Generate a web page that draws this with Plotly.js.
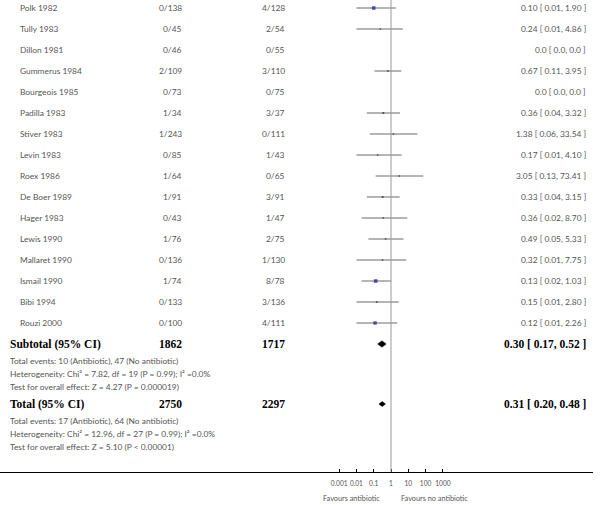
<!DOCTYPE html>
<html>
<head>
<meta charset="utf-8">
<script src="https://cdn.plot.ly/plotly-3.0.1.min.js"></script>
<style>html,body{margin:0;padding:0;background:#fff;}#chart{width:600px;height:505px;}</style>
</head>
<body>
<div id="chart"></div>
<script>
// ---- data ----
const studies = ["Polk 1982","Tully 1983","Dillon 1981","Gummerus 1984","Bourgeois 1985","Padilla 1983","Stiver 1983","Levin 1983","Roex 1986","De Boer 1989","Hager 1983","Lewis 1990","Mallaret 1990","Ismail 1990","Bibi 1994","Rouzi 2000"];
const abEvents = [0,0,0,2,0,1,1,0,1,1,0,1,0,1,0,0];
const abTotal  = [138,45,46,109,73,34,243,85,64,91,43,76,136,74,133,100];
const noEvents = [4,2,0,3,0,3,0,1,0,3,1,2,1,8,3,4];
const noTotal  = [128,54,55,110,75,37,111,43,65,91,47,75,130,78,136,111];
const rr = [0.10,0.24,0,0.67,0,0.36,1.38,0.17,3.05,0.33,0.36,0.49,0.32,0.13,0.15,0.12];
const ciLo = [0.01,0.01,0,0.11,0,0.04,0.06,0.01,0.13,0.04,0.02,0.05,0.01,0.02,0.01,0.01];
const ciHi = [1.90,4.86,0,3.95,0,3.32,33.54,4.10,73.41,3.15,8.70,5.33,7.75,1.03,2.80,2.26];
const weights = [8.5,3.5,0,4.0,0,4.5,1.5,2.5,1.5,4.5,2.0,3.0,2.0,8.5,4.0,8.0];

const summaryLabels = ["Subtotal (95% CI)","Total (95% CI)"];
const summaryAb = [1862, 2750];
const summaryNo = [1717, 2297];
const summaryRR = [0.30, 0.31];
const summaryLo = [0.17, 0.20];
const summaryHi = [0.52, 0.48];
const subtotalNotes = ["Total events: 10 (Antibiotic), 47 (No antibiotic)",
  "Heterogeneity: Chi² = 7.82, df = 19 (P = 0.99); I² =0.0%",
  "Test for overall effect: Z = 4.27 (P = 0.000019)"];
const totalNotes = ["Total events: 17 (Antibiotic), 64 (No antibiotic)",
  "Heterogeneity: Chi² = 12.96, df = 27 (P = 0.99); I² =0.0%",
  "Test for overall effect: Z = 5.10 (P < 0.00001)"];
const tickVals = [0.001,0.01,0.1,1,10,100,1000];
const tickText = ["0.001","0.01","0.1","1","10","100","1000"];
const favourLeft = "Favours antibiotic";
const favourRight = "Favours no antibiotic";

// ---- layout geometry ----
const W = 600, H = 505, mR = 7, mB = 33;
const plotW = W - mR, plotH = H - mB;
const nullPx = 391, pxPerDecade = 17.3;
const rowPx = 21, firstRowPx = 8;
const xr = [(0 - nullPx)/pxPerDecade, (plotW - nullPx)/pxPerDecade];
const yr = [(plotH - firstRowPx)/rowPx, (0 - firstRowPx)/rowPx];
const px = p => p / plotW; // paper x from pixel

const studyRows = studies.map((s,i)=>i);
const subRow = studies.length;
const totRow = subRow + 2.86;
const noteRows = base => [0.8, 1.42, 2.04].map(d => base + d);

const smallFont = {family:"Lato, 'Open Sans', sans-serif", size:8.4, color:"#555"};
const boldFont = {family:"'Liberation Serif', 'Times New Roman', serif", size:11.5, color:"#000", weight:"bold"};

const ann = [];
const fmt = v => v.toFixed(2);
studies.forEach((s,i)=>{
  const y = studyRows[i];
  ann.push({text:s, x:px(18), xanchor:"left", y});
  ann.push({text:abEvents[i]+"/"+abTotal[i], x:px(184), xanchor:"right", y});
  ann.push({text:noEvents[i]+"/"+noTotal[i], x:px(287), xanchor:"right", y});
  const t = rr[i] > 0 ? `${fmt(rr[i])} [ ${fmt(ciLo[i])}, ${fmt(ciHi[i])} ]` : "0.0 [ 0.0, 0.0 ]";
  ann.push({text:t, x:px(588), xanchor:"right", y});
});
[subRow, totRow].forEach((y,k)=>{
  const f = {...boldFont};
  ann.push({text:"<b>"+summaryLabels[k]+"</b>", x:px(8), xanchor:"left", y, font:f});
  ann.push({text:"<b>"+summaryAb[k]+"</b>", x:px(184), xanchor:"right", y, font:f});
  ann.push({text:"<b>"+summaryNo[k]+"</b>", x:px(287), xanchor:"right", y, font:f});
  ann.push({text:`<b>${fmt(summaryRR[k])} [ ${fmt(summaryLo[k])}, ${fmt(summaryHi[k])} ]</b>`, x:px(588), xanchor:"right", y, font:f});
});
[[subRow, subtotalNotes],[totRow, totalNotes]].forEach(([base, notes])=>{
  const rows = noteRows(base);
  notes.forEach((t,i)=> ann.push({text:t, x:px(8), xanchor:"left", y:rows[i]}));
});
const annotations = ann.map(a => Object.assign({xref:"paper", yref:"y", yanchor:"middle", showarrow:false, font:smallFont}, a));
const favFont = {family:smallFont.family, size:7.3, color:"#555"};
annotations.push({text:favourLeft, xref:"x", x:0, xanchor:"right", xshift:-9, yref:"paper", y:-(498-plotH)/plotH, yanchor:"middle", showarrow:false, font:favFont});
annotations.push({text:favourRight, xref:"x", x:0, xanchor:"left", xshift:8, yref:"paper", y:-(498-plotH)/plotH, yanchor:"middle", showarrow:false, font:favFont});

// CI lines
const ciX = [], ciY = [];
studies.forEach((s,i)=>{ if (rr[i] > 0) { ciX.push(ciLo[i], ciHi[i], null); ciY.push(studyRows[i], studyRows[i], null); } });
const idx = studies.map((s,i)=>i).filter(i=>rr[i]>0);

const traces = [
  {type:"scatter", mode:"lines", x:ciX, y:ciY, line:{color:"#444", width:0.8}, hoverinfo:"skip", showlegend:false},
  {type:"scatter", mode:"markers", x:idx.map(i=>rr[i]), y:idx.map(i=>studyRows[i]),
   marker:{symbol:"square", color:idx.map(i=>weights[i] > 6 ? "#14149a" : "#222"), size:idx.map(i=>Math.max(1.5, weights[i]*0.42)), line:{width:0}}, showlegend:false}
];
const dh = 0.15;
[subRow, totRow].forEach((y,k)=>{
  const h = k === 0 ? dh : dh*0.8;
  traces.push({type:"scatter", mode:"lines", fill:"toself", fillcolor:"#000", line:{color:"#000", width:0.5},
    x:[summaryLo[k], summaryRR[k], summaryHi[k], summaryRR[k], summaryLo[k]],
    y:[y, y-h, y, y+h, y], showlegend:false, hoverinfo:"skip"});
});

const layout = {
  width:W, height:H, paper_bgcolor:"#fff", plot_bgcolor:"#fff",
  margin:{l:0, r:mR, t:0, b:mB}, showlegend:false,
  xaxis:{type:"log", range:xr, showgrid:false, zeroline:false, showline:true, linecolor:"#000", linewidth:1.4,
    ticks:"inside", ticklen:3, tickcolor:"#000", tickwidth:1, tickvals:tickVals, ticktext:tickText, tickangle:0,
    tickfont:{family:smallFont.family, size:6.6, color:"#555"}, ticklabelstandoff:5, fixedrange:true},
  yaxis:{range:yr, visible:false, showgrid:false, zeroline:false, fixedrange:true},
  shapes:[{type:"line", xref:"x", x0:1, x1:1, yref:"paper", y0:0, y1:1, line:{color:"#999", width:1}}],
  annotations
};
Plotly.newPlot("chart", traces, layout, {staticPlot:true, displayModeBar:false});
</script>
</body>
</html>
